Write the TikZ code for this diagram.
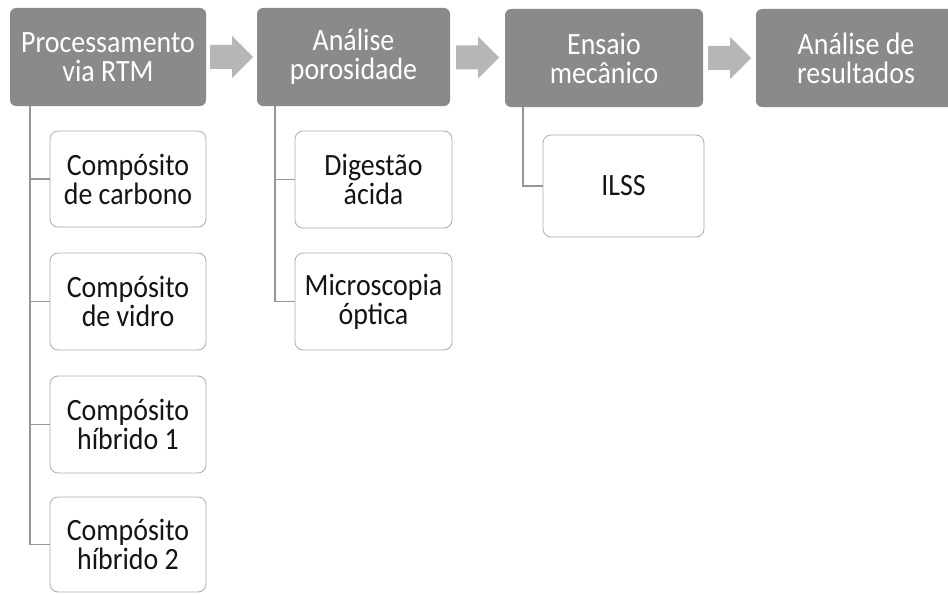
\documentclass[tikz,border=0pt]{standalone}
\usepackage{fontspec}
\setmainfont{Carlito}
\newfontfamily\diagfont{Carlito}[FakeStretch=0.9]
\usetikzlibrary{calc}
\definecolor{stagegray}{RGB}{138,138,138}
\definecolor{arrowgray}{RGB}{182,182,182}
\definecolor{linegray}{RGB}{150,150,150}
\definecolor{boxline}{RGB}{172,172,172}
\definecolor{itemtext}{RGB}{20,20,20}
% block arrow centred in the gap between two stage boxes
\newcommand\stagearrow[2]{%
  \fill[flow]
    ($(#1.east)!0.5!(#2.west)+(-21.5,-12)$) --
    ($(#1.east)!0.5!(#2.west)+(0.5,-12)$) --
    ($(#1.east)!0.5!(#2.west)+(0.5,-21)$) --
    ($(#1.east)!0.5!(#2.west)+(21.5,0)$) --
    ($(#1.east)!0.5!(#2.west)+(0.5,21)$) --
    ($(#1.east)!0.5!(#2.west)+(0.5,12)$) --
    ($(#1.east)!0.5!(#2.west)+(-21.5,12)$) -- cycle;}
\begin{document}
\begin{tikzpicture}[x=1pt,y=-1pt,
  labelfont/.style={font=\diagfont\fontsize{31}{29}\selectfont},
  stagebox/.style={labelfont, fill=stagegray, rounded corners=6pt,
    text=white, align=center, inner sep=0pt, outer sep=0pt},
  itembox/.style={labelfont, draw=boxline, line width=0.8pt, fill=white,
    rounded corners=8pt, text=itemtext, align=center, inner sep=0pt,
    outer sep=0pt},
  conn/.style={draw=linegray, line width=1.2pt},
  flow/.style={fill=arrowgray}]
\useasboundingbox (0,0) rectangle (948,594);
\clip (0,0) rectangle (948,594);

% main stages
\node[stagebox, minimum width=196pt, minimum height=98pt] (s1) at (108,57)
  {Processamento\\via RTM};
\node[stagebox, minimum width=193pt, minimum height=98pt] (s2) at (353.5,57)
  {Análise\\porosidade};
\node[stagebox, minimum width=198pt, minimum height=98pt] (s3) at (604,58)
  {Ensaio\\mecânico};
\node[stagebox, minimum width=200pt, minimum height=98pt] (s4) at (856,58)
  {Análise de\\resultados};

\stagearrow{s1}{s2}
\stagearrow{s2}{s3}
\stagearrow{s3}{s4}

% sub-steps of the first stage
\node[itembox, minimum width=156pt, minimum height=96pt] (c1) at (128,179)
  {Compósito\\de carbono};
\node[itembox, minimum width=156pt, minimum height=97pt] (c2) at (128,301.5)
  {Compósito\\de vidro};
\node[itembox, minimum width=156pt, minimum height=97pt] (c3) at (128,424.5)
  {Compósito\\híbrido 1};
\node[itembox, minimum width=156pt, minimum height=95pt] (c4) at (128,544.5)
  {Compósito\\híbrido 2};

% sub-steps of the second stage
\node[itembox, minimum width=157pt, minimum height=97pt] (d1) at (373.5,179.5)
  {Digestão\\ácida};
\node[itembox, minimum width=157pt, minimum height=97pt] (d2) at (373.5,301.5)
  {Microscopia\\óptica};

% sub-step of the third stage
\node[itembox, minimum width=161pt, minimum height=102pt] (e1) at (623.5,186)
  {ILSS};

% tree connectors
\coordinate (t1) at (30,106);
\coordinate (t2) at (275,106);
\coordinate (t3) at (523,107);
\draw[conn] (t1) |- (c1.west);
\draw[conn] (t1) |- (c2.west);
\draw[conn] (t1) |- (c3.west);
\draw[conn] (t1) |- (c4.west);
\draw[conn] (t2) |- (d1.west);
\draw[conn] (t2) |- (d2.west);
\draw[conn] (t3) |- (e1.west);
\end{tikzpicture}
\end{document}
